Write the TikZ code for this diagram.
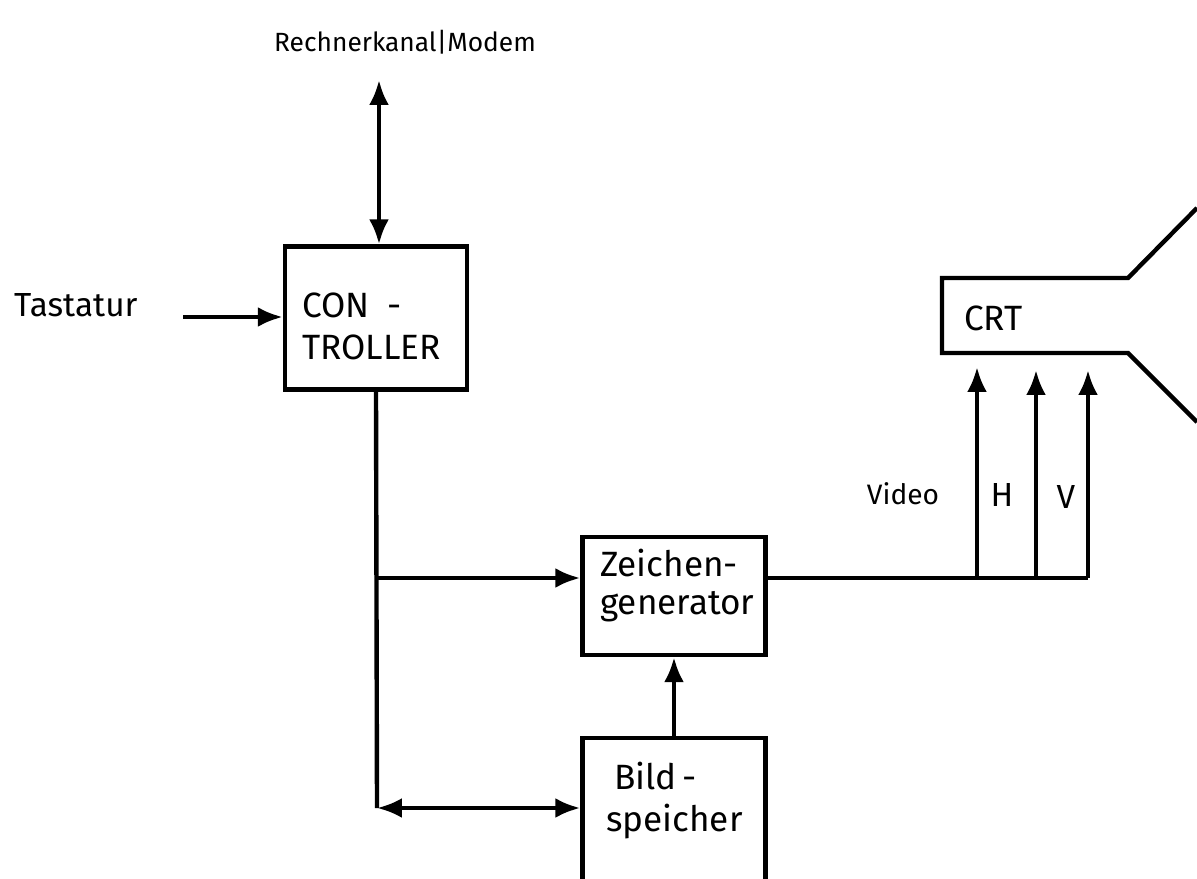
\documentclass[tikz,border=0pt]{standalone}
\usepackage{fontspec}
\setmainfont{Fira Sans}
\usetikzlibrary{arrows.meta}
\begin{document}
\begin{tikzpicture}[x=0.02cm,y=-0.02cm,
  line width=2.5pt,
  blk/.style={draw, rectangle, inner sep=0pt},
  lbl/.style={inner sep=0pt, font=\fontsize{19}{22}\selectfont},
  boxtxt/.style={inner sep=0pt, anchor=west, font=\fontsize{20}{22}\selectfont},
  tip/.tip={Latex[length=0.5cm,width=0.4cm]},
  arr/.style={-tip},
  dbl/.style={tip-tip}]
\useasboundingbox (0,0) rectangle (1197,879);
\clip (0,0) rectangle (1197,879);
% label nodes
\node[lbl, font=\fontsize{15}{18}\selectfont] (modemlbl) at (405,42) {Rechnerkanal|Modem};
\node[lbl, anchor=west] (tast) at (12,305) {Tastatur};
% boxes
\node[blk, minimum width=3.64cm, minimum height=2.86cm] (ctrl) at (376,318) {};
\node[boxtxt] (ct1) at (300,305) {CON\enspace-};
\node[boxtxt] (ct2) at (300,347) {TROLLER};
\node[blk, minimum width=3.66cm, minimum height=2.36cm] (zg) at (674,596) {};
\node[boxtxt] (zt1) at (598,563) {Zeichen-};
\node[boxtxt] (zt2) at (598,607) {generator};
\node[blk, minimum width=3.66cm, minimum height=3.2cm, anchor=north] (bs) at (674,736) {};
\node[boxtxt] (bt1) at (612,776) {Bild\,-};
\node[boxtxt] (bt2) at (604,822) {speicher};
% CRT
\draw (1197,208) -- (1128,278) -- (942,278) -- (942,353) -- (1128,353) -- (1197,422);
\node[boxtxt] (crt) at (962,318) {CRT};
% coordinates
\coordinate (modemend) at (379,80);
\coordinate (tastend) at (183,317);
\coordinate (j1) at (377,578);
\coordinate (j2) at (377,808);
\coordinate (vb) at (977,578);
\coordinate (hb) at (1036,578);
\coordinate (vvb) at (1088,578);
\coordinate (vt) at (977,367);
\coordinate (ht) at (1036,370);
\coordinate (vvt) at (1088,370);
% connectors
\draw[dbl] (modemend) -- (modemend |- ctrl.north);
\draw[arr] (tastend) -- (ctrl.west |- tastend);
\draw (ctrl.south |- 0,390) -- (j2);
\draw[arr] (j1) -- (j1 -| zg.west);
\draw[dbl] (j2) -- (j2 -| bs.west);
\draw[arr] (bs.north) -- (zg.south);
\draw (zg.east |- j1) -- (vvb);
\draw[arr] (vb) -- (vt);
\draw[arr] (hb) -- (ht);
\draw[arr] (vvb) -- (vvt);
% signal labels
\node[lbl, font=\fontsize{16}{18}\selectfont] (video) at (903,494) {Video};
\node[lbl] (hl) at (1002,495) {H};
\node[lbl] (vl) at (1066,497) {V};
\end{tikzpicture}
\end{document}
